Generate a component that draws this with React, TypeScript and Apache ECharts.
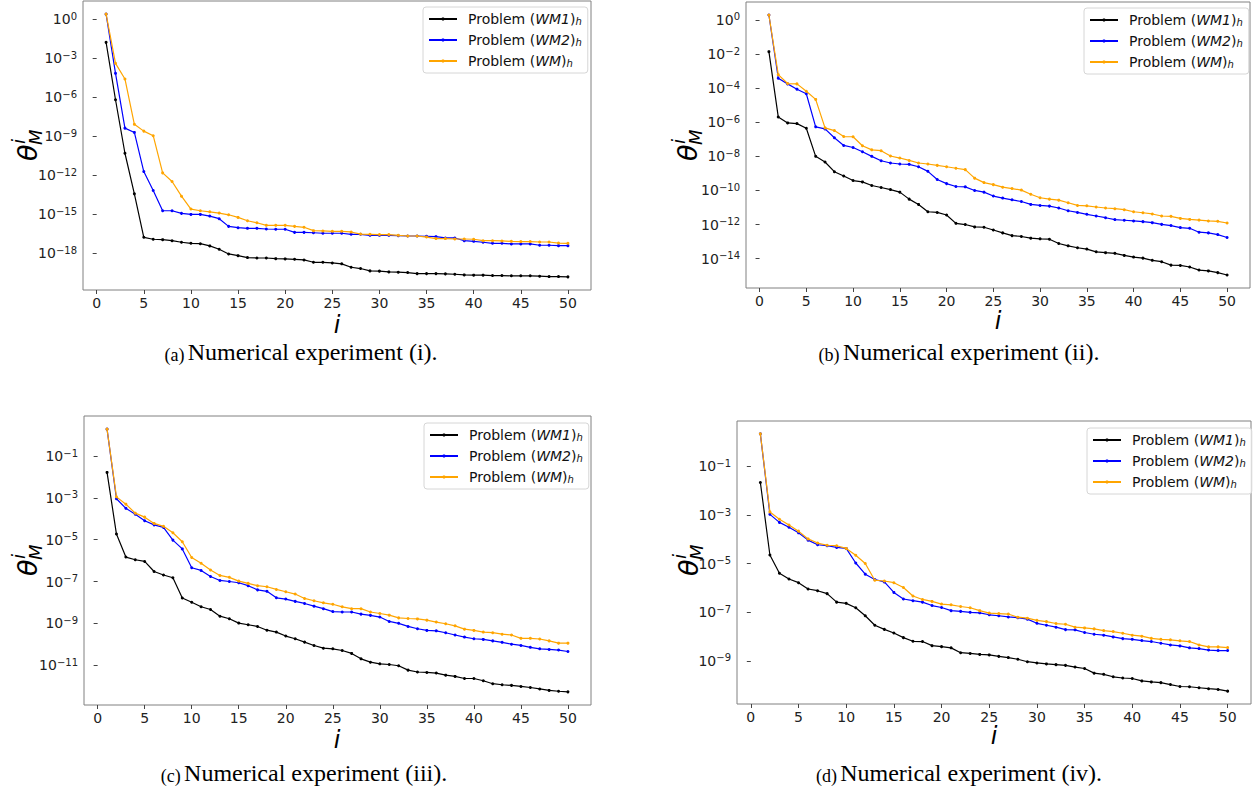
import React, { useEffect, useRef } from 'react';
import * as echarts from 'echarts';

// Iteration index i = 1..50
const iterations = Array.from({ length: 50 }, (_, k) => k + 1);

// log10(theta_M^i) for each problem, experiment (i)
const expA_WM1 = [-1.79, -6.20, -10.31, -13.43, -16.77, -16.92, -16.95, -17.03, -17.15, -17.23,
  -17.26, -17.43, -17.69, -18.05, -18.18, -18.33, -18.36, -18.36, -18.41, -18.43,
  -18.46, -18.51, -18.69, -18.69, -18.74, -18.81, -19.07, -19.17, -19.35, -19.37,
  -19.43, -19.45, -19.48, -19.56, -19.56, -19.56, -19.58, -19.61, -19.66, -19.68,
  -19.68, -19.71, -19.71, -19.73, -19.73, -19.73, -19.76, -19.79, -19.79, -19.81];
const expA_WM2 = [0.38, -4.17, -8.38, -8.71, -11.72, -13.17, -14.73, -14.73, -14.93, -15.01,
  -15.01, -15.14, -15.34, -15.93, -16.03, -16.08, -16.08, -16.13, -16.15, -16.15,
  -16.39, -16.39, -16.42, -16.46, -16.46, -16.46, -16.54, -16.54, -16.62, -16.62,
  -16.62, -16.64, -16.67, -16.67, -16.69, -16.72, -16.82, -16.82, -17.03, -17.08,
  -17.15, -17.23, -17.23, -17.28, -17.28, -17.28, -17.38, -17.38, -17.41, -17.41];
const expA_WM = [0.38, -3.40, -4.60, -8.09, -8.61, -8.96, -11.82, -12.48, -13.61, -14.60,
  -14.73, -14.81, -14.91, -15.04, -15.24, -15.50, -15.65, -15.85, -15.85, -15.85,
  -15.93, -16.00, -16.26, -16.28, -16.31, -16.31, -16.36, -16.52, -16.54, -16.56,
  -16.56, -16.62, -16.67, -16.67, -16.75, -16.87, -16.87, -16.90, -16.90, -16.92,
  -17.03, -17.03, -17.05, -17.08, -17.10, -17.10, -17.13, -17.13, -17.21, -17.23];

// experiment (ii)
const expB_WM1 = [-1.86, -5.69, -6.04, -6.08, -6.35, -8.00, -8.33, -8.90, -9.15, -9.42,
  -9.50, -9.71, -9.83, -9.95, -10.10, -10.51, -10.82, -11.25, -11.29, -11.44,
  -11.93, -12.00, -12.14, -12.16, -12.32, -12.49, -12.65, -12.70, -12.80, -12.84,
  -12.86, -13.11, -13.25, -13.36, -13.44, -13.60, -13.65, -13.69, -13.81, -13.91,
  -13.97, -14.10, -14.18, -14.38, -14.40, -14.49, -14.67, -14.72, -14.82, -14.96];
const expB_WM2 = [0.29, -3.42, -3.75, -4.06, -4.33, -6.27, -6.39, -6.91, -7.36, -7.48,
  -7.73, -8.00, -8.26, -8.39, -8.45, -8.47, -8.61, -8.88, -9.36, -9.60,
  -9.77, -9.79, -10.00, -10.10, -10.33, -10.45, -10.55, -10.65, -10.82, -10.88,
  -10.92, -11.03, -11.19, -11.29, -11.40, -11.50, -11.60, -11.71, -11.75, -11.79,
  -11.83, -11.89, -11.99, -12.06, -12.18, -12.22, -12.45, -12.49, -12.59, -12.76];
const expB_WM = [0.29, -3.21, -3.73, -3.75, -4.18, -4.66, -6.33, -6.49, -6.84, -6.85,
  -7.38, -7.62, -7.67, -7.98, -8.10, -8.24, -8.39, -8.45, -8.53, -8.61,
  -8.70, -8.78, -9.28, -9.54, -9.66, -9.81, -9.89, -9.98, -10.22, -10.43,
  -10.51, -10.57, -10.72, -10.88, -10.90, -10.97, -11.03, -11.07, -11.13, -11.25,
  -11.31, -11.38, -11.50, -11.52, -11.64, -11.70, -11.74, -11.79, -11.81, -11.91];

// experiment (iii)
const expC_WM1 = [-1.78, -4.73, -5.83, -5.96, -6.04, -6.52, -6.69, -6.82, -7.79, -7.99,
  -8.21, -8.34, -8.66, -8.78, -8.99, -9.07, -9.15, -9.33, -9.42, -9.61,
  -9.74, -9.90, -10.06, -10.19, -10.22, -10.30, -10.44, -10.70, -10.86, -10.94,
  -10.97, -11.03, -11.24, -11.33, -11.35, -11.38, -11.48, -11.54, -11.64, -11.64,
  -11.75, -11.89, -11.94, -11.97, -12.02, -12.07, -12.14, -12.21, -12.25, -12.28];
const expC_WM2 = [0.29, -3.04, -3.50, -3.78, -4.09, -4.29, -4.41, -5.02, -5.44, -6.34,
  -6.47, -6.76, -6.95, -7.00, -7.06, -7.20, -7.40, -7.47, -7.78, -7.84,
  -7.95, -8.05, -8.18, -8.30, -8.44, -8.46, -8.46, -8.56, -8.62, -8.70,
  -8.91, -9.00, -9.15, -9.26, -9.34, -9.36, -9.45, -9.56, -9.66, -9.74,
  -9.77, -9.84, -9.91, -10.00, -10.06, -10.15, -10.22, -10.25, -10.28, -10.35];
const expC_WM = [0.29, -2.95, -3.30, -3.73, -3.92, -4.22, -4.36, -4.67, -5.10, -5.85,
  -6.13, -6.45, -6.71, -6.80, -6.98, -7.09, -7.20, -7.25, -7.38, -7.49,
  -7.60, -7.81, -7.92, -8.02, -8.09, -8.21, -8.30, -8.30, -8.46, -8.53,
  -8.61, -8.74, -8.77, -8.79, -8.85, -8.94, -9.02, -9.12, -9.28, -9.34,
  -9.42, -9.45, -9.52, -9.56, -9.72, -9.72, -9.75, -9.84, -9.95, -9.95];

// experiment (iv)
const expD_WM1 = [-1.66, -4.64, -5.39, -5.63, -5.78, -6.04, -6.11, -6.23, -6.58, -6.63,
  -6.81, -7.14, -7.53, -7.70, -7.85, -8.04, -8.19, -8.20, -8.37, -8.41,
  -8.46, -8.66, -8.69, -8.73, -8.75, -8.81, -8.86, -8.93, -9.03, -9.08,
  -9.12, -9.15, -9.18, -9.25, -9.31, -9.50, -9.55, -9.65, -9.70, -9.72,
  -9.82, -9.86, -9.89, -9.97, -10.05, -10.06, -10.10, -10.14, -10.17, -10.24];
const expD_WM2 = [0.34, -2.97, -3.30, -3.50, -3.73, -4.03, -4.22, -4.26, -4.33, -4.37,
  -4.97, -5.43, -5.65, -5.75, -6.18, -6.45, -6.52, -6.58, -6.72, -6.80,
  -6.93, -6.96, -7.00, -7.02, -7.10, -7.14, -7.19, -7.22, -7.28, -7.45,
  -7.53, -7.61, -7.71, -7.72, -7.83, -7.90, -7.94, -8.01, -8.08, -8.11,
  -8.16, -8.20, -8.27, -8.34, -8.38, -8.46, -8.49, -8.55, -8.57, -8.57];
const expD_WM = [0.34, -2.87, -3.17, -3.41, -3.66, -3.98, -4.15, -4.24, -4.26, -4.37,
  -4.65, -4.99, -5.68, -5.71, -5.78, -5.98, -6.33, -6.47, -6.55, -6.66,
  -6.69, -6.76, -6.81, -6.93, -7.03, -7.05, -7.07, -7.20, -7.24, -7.33,
  -7.38, -7.46, -7.49, -7.61, -7.64, -7.68, -7.75, -7.79, -7.86, -7.94,
  -7.98, -8.07, -8.11, -8.13, -8.17, -8.20, -8.34, -8.42, -8.42, -8.45];

// Tick positions
const xTicks = [0, 5, 10, 15, 20, 25, 30, 35, 40, 45, 50];
const yTickExpA = [0, -3, -6, -9, -12, -15, -18];
const yTickExpB = [0, -2, -4, -6, -8, -10, -12, -14];
const yTickExpC = [-1, -3, -5, -7, -9, -11];
const yTickExpD = [-1, -3, -5, -7, -9];

const problemKeys = ['WM1', 'WM2', 'WM'];
const problemColors = ['#000000', '#0000ff', '#ffa500'];

const captionTags = ['(a)', '(b)', '(c)', '(d)'];
const captionTexts = [
  'Numerical experiment (i).',
  'Numerical experiment (ii).',
  'Numerical experiment (iii).',
  'Numerical experiment (iv).',
];

// Layout of the four sub-figures (pixels)
const layouts = [
  { grid: { left: 83, top: 1, width: 508, height: 289 }, legend: { left: 423, top: 7 }, xLabel: [337, 325], yLabel: [27, 145], caption: [301, 352] },
  { grid: { left: 746, top: 2, width: 504, height: 286 }, legend: { left: 1084, top: 8 }, xLabel: [998, 321], yLabel: [687, 145], caption: [959, 352] },
  { grid: { left: 84, top: 416, width: 507, height: 289 }, legend: { left: 424, top: 423 }, xLabel: [337, 740], yLabel: [27, 560], caption: [304, 773] },
  { grid: { left: 737, top: 421, width: 514, height: 283 }, legend: { left: 1087, top: 428 }, xLabel: [994, 736], yLabel: [688, 560], caption: [959, 773] },
];

const panelSeries = [
  [expA_WM1, expA_WM2, expA_WM],
  [expB_WM1, expB_WM2, expB_WM],
  [expC_WM1, expC_WM2, expC_WM],
  [expD_WM1, expD_WM2, expD_WM],
];
const panelTicks = [yTickExpA, yTickExpB, yTickExpC, yTickExpD];

const FONT = 'DejaVu Sans';
const SERIF = 'Liberation Serif';

function powerLabel(v: number) {
  const e = Math.round(Math.log10(v));
  const s = e < 0 ? '\u2212' + String(-e) : String(e);
  return `{b|10}{s|${s}}`;
}

function legendLabel(name: string) {
  return `{n0|Problem (}{i|${name}}{n|)}{h|h}`;
}

function buildOption() {
  const grid: any[] = [];
  const xAxis: any[] = [];
  const yAxis: any[] = [];
  const series: any[] = [];
  const legend: any[] = [];
  const graphic: any[] = [];

  const xMin = 1 - 0.05 * 49;
  const xMax = 50 + 0.05 * 49;

  panelSeries.forEach((sets, k) => {
    const lay = layouts[k];
    let lo = Infinity;
    let hi = -Infinity;
    sets.forEach((arr) => arr.forEach((v) => { lo = Math.min(lo, v); hi = Math.max(hi, v); }));
    const pad = 0.05 * (hi - lo);
    const yMin = Math.pow(10, lo - pad);
    const yMax = Math.pow(10, hi + pad);
    const yTickVals = panelTicks[k].map((e) => Math.pow(10, e));

    grid.push({
      ...lay.grid,
      show: true,
      borderColor: '#808080',
      borderWidth: 1,
      backgroundColor: 'transparent',
      containLabel: false,
      outerBoundsMode: 'none',
    });

    xAxis.push({
      gridIndex: k,
      type: 'value',
      min: xMin,
      max: xMax,
      axisLine: { show: false },
      splitLine: { show: false },
      axisTick: { show: true, length: 4, customValues: xTicks, lineStyle: { color: '#444', width: 1 } },
      axisLabel: { customValues: xTicks, margin: 5, fontSize: 14, color: '#222', fontFamily: FONT, lineHeight: 15 },
    });

    yAxis.push({
      gridIndex: k,
      type: 'log',
      logBase: 10,
      min: yMin,
      max: yMax,
      axisLine: { show: false },
      splitLine: { show: false },
      minorTick: { show: false },
      axisTick: { show: true, length: 4, customValues: yTickVals, lineStyle: { color: '#444', width: 1 } },
      axisLabel: {
        customValues: yTickVals,
        margin: 6,
        color: '#222',
        formatter: (v: number) => powerLabel(v),
        rich: {
          b: { fontSize: 14, fontFamily: FONT, color: '#222', lineHeight: 16 },
          s: { fontSize: 10, fontFamily: FONT, color: '#222', lineHeight: 10, verticalAlign: 'top' },
        },
      },
    });

    sets.forEach((arr, j) => {
      series.push({
        type: 'line',
        name: problemKeys[j],
        xAxisIndex: k,
        yAxisIndex: k,
        data: iterations.map((it, n) => [it, Math.pow(10, arr[n])]),
        symbol: 'circle',
        symbolSize: 3,
        showSymbol: true,
        lineStyle: { color: problemColors[j], width: 1.2 },
        itemStyle: { color: problemColors[j] },
        emphasis: { disabled: true },
        z: 2 + j,
      });
    });

    legend.push({
      data: problemKeys,
      orient: 'vertical',
      left: lay.legend.left,
      top: lay.legend.top,
      itemWidth: 28,
      itemHeight: 4,
      itemGap: 7,
      padding: [5, 6, 5, 5],
      backgroundColor: 'rgba(255,255,255,0.85)',
      borderColor: '#d6d6d6',
      borderWidth: 1,
      borderRadius: 3,
      selectedMode: false,
      formatter: legendLabel,
      textStyle: {
        rich: {
          n0: { fontSize: 14, fontFamily: FONT, color: '#111', lineHeight: 14, padding: [0, 0, 0, 6] },
          n: { fontSize: 14, fontFamily: FONT, color: '#111', lineHeight: 14 },
          i: { fontSize: 14, fontFamily: FONT, fontStyle: 'italic', color: '#111', lineHeight: 14 },
          h: { fontSize: 10, fontFamily: FONT, fontStyle: 'italic', color: '#111', lineHeight: 10, verticalAlign: 'bottom' },
        },
      },
    });

    // axis title "i"
    graphic.push({
      type: 'text',
      x: lay.xLabel[0],
      y: lay.xLabel[1],
      style: { text: 'i', fontSize: 24, fontStyle: 'italic', fontFamily: FONT, fill: '#000', align: 'center', verticalAlign: 'middle', lineHeight: 24 },
    });

    // axis title theta_M^i, rotated
    graphic.push({
      type: 'group',
      x: lay.yLabel[0],
      y: lay.yLabel[1],
      rotation: Math.PI / 2,
      children: [
        { type: 'text', x: -16, y: 0, style: { text: '\u03B8', fontSize: 27, fontStyle: 'italic', fontFamily: FONT, fill: '#000', align: 'left', verticalAlign: 'middle' } },
        { type: 'text', x: 1, y: -9, style: { text: 'i', fontSize: 18, fontStyle: 'italic', fontFamily: FONT, fill: '#000', align: 'left', verticalAlign: 'middle' } },
        { type: 'text', x: 0, y: 8, style: { text: 'M', fontSize: 18, fontStyle: 'italic', fontFamily: FONT, fill: '#000', align: 'left', verticalAlign: 'middle' } },
      ],
    });

    // sub-figure caption
    graphic.push({
      type: 'text',
      x: lay.caption[0],
      y: lay.caption[1],
      style: {
        text: `{p|${captionTags[k]}} {t|${captionTexts[k]}}`,
        align: 'center',
        verticalAlign: 'middle',
        rich: {
          p: { fontSize: 18, fontFamily: SERIF, fill: '#000', verticalAlign: 'bottom' },
          t: { fontSize: 24, fontFamily: SERIF, fill: '#000' },
        },
      },
    });
  });

  return {
    animation: false,
    backgroundColor: '#ffffff',
    grid,
    xAxis,
    yAxis,
    series,
    legend,
    graphic,
  };
}

export default function App() {
  const ref = useRef<HTMLDivElement | null>(null);
  useEffect(() => {
    if (!ref.current) return;
    const chart = echarts.init(ref.current, undefined, { renderer: 'svg' });
    chart.setOption(buildOption() as any);
    return () => chart.dispose();
  }, []);
  return <div ref={ref} style={{ position: 'absolute', left: 0, top: 0, width: 1253, height: 792 }} />;
}
